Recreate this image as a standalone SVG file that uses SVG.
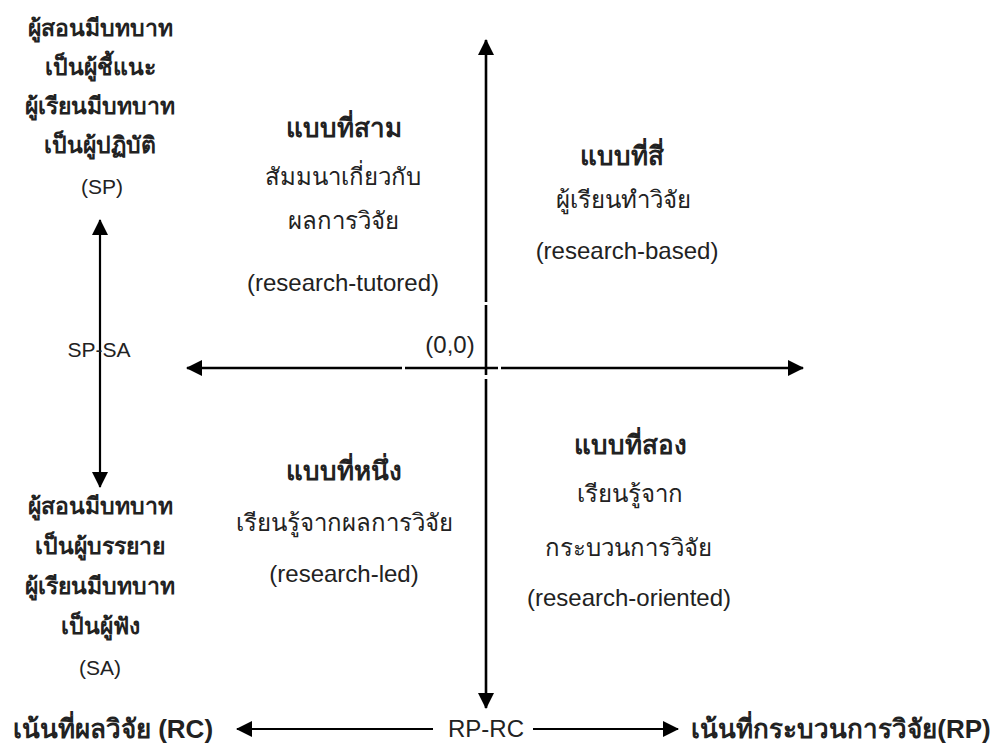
<svg xmlns="http://www.w3.org/2000/svg" width="997" height="751" viewBox="0 0 997 751">
<defs>
<marker id="ah" viewBox="0 0 16 16" refX="15" refY="8" markerWidth="16" markerHeight="16" markerUnits="userSpaceOnUse" orient="auto">
<path d="M0,0 L16,8 L0,16 Z" fill="#000"/>
</marker>
</defs>
<style>
text{font-family:"Liberation Sans","Noto Sans",sans-serif;fill:#222;text-anchor:middle}
.b{font-weight:bold;font-size:23px}
.h{font-weight:bold;font-size:26px}
.r{font-size:24px}
.s{font-size:21px}
.ax{stroke:#000;stroke-width:2.6;fill:none}
.ax2{stroke:#000;stroke-width:2.2;fill:none}
</style>
<rect width="997" height="751" fill="#fff"/>
<g id="connectors">
<path class="ax" d="M486,302 L486,40" marker-end="url(#ah)"/>
<path class="ax" d="M486,305 L486,375"/>
<path class="ax" d="M486,379 L486,708" marker-end="url(#ah)"/>
<path class="ax" d="M402,368 L187,368" marker-end="url(#ah)"/>
<path class="ax" d="M405,368 L498,368"/>
<path class="ax" d="M501,368 L803,368" marker-end="url(#ah)"/>
<path class="ax2" d="M100,340 L100,220" marker-end="url(#ah)"/>
<path class="ax2" d="M100,340 L100,487" marker-end="url(#ah)"/>
<path class="ax2" d="M433,729 L237,729" marker-end="url(#ah)"/>
<path class="ax2" d="M533,729 L678,729" marker-end="url(#ah)"/>
</g>
<g id="sp-label">
<text class="b" x="100" y="36">ผู้สอนมีบทบาท</text>
<text class="b" x="100" y="75">เป็นผู้ชี้แนะ</text>
<text class="b" x="100" y="114">ผู้เรียนมีบทบาท</text>
<text class="b" x="100" y="153">เป็นผู้ปฏิบัติ</text>
<text class="s" x="102" y="194">(SP)</text>
</g>
<g id="sp-sa">
<text class="s" x="99" y="357">SP-SA</text>
</g>
<g id="sa-label">
<text class="b" x="100" y="514">ผู้สอนมีบทบาท</text>
<text class="b" x="100" y="554">เป็นผู้บรรยาย</text>
<text class="b" x="100" y="594">ผู้เรียนมีบทบาท</text>
<text class="b" x="100" y="634">เป็นผู้ฟัง</text>
<text class="s" x="100" y="675">(SA)</text>
</g>
<g id="q3">
<text class="h" x="344" y="137">แบบที่สาม</text>
<text class="r" x="343" y="185">สัมมนาเกี่ยวกับ</text>
<text class="r" x="343" y="229">ผลการวิจัย</text>
<text class="r" x="343" y="291">(research-tutored)</text>
</g>
<g id="q4">
<text class="h" x="622" y="165">แบบที่สี่</text>
<text class="r" x="623" y="208">ผู้เรียนทำวิจัย</text>
<text class="r" x="627" y="259">(research-based)</text>
</g>
<g id="origin">
<text class="r" x="450" y="353">(0,0)</text>
</g>
<g id="q1">
<text class="h" x="344" y="480">แบบที่หนึ่ง</text>
<text class="r" x="344" y="531">เรียนรู้จากผลการวิจัย</text>
<text class="r" x="344" y="582">(research-led)</text>
</g>
<g id="q2">
<text class="h" x="630" y="454">แบบที่สอง</text>
<text class="r" x="630" y="502">เรียนรู้จาก</text>
<text class="r" x="628" y="556">กระบวนการวิจัย</text>
<text class="r" x="629" y="606">(research-oriented)</text>
</g>
<g id="rc">
<text class="h" x="113" y="738">เน้นที่ผลวิจัย (RC)</text>
</g>
<g id="rp-rc">
<text class="s" x="486" y="737" style="font-size:24px">RP-RC</text>
</g>
<g id="rp">
<text class="h" x="841" y="738">เน้นที่กระบวนการวิจัย(RP)</text>
</g>
</svg>
